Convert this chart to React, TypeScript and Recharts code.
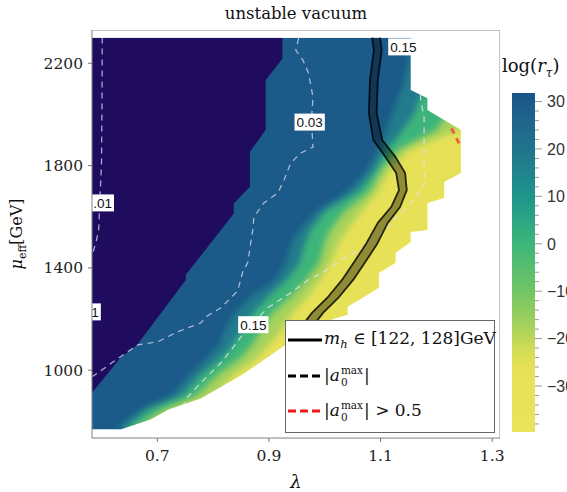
import React from 'react'
import { ComposedChart, Scatter, XAxis, YAxis, BarChart, Bar } from 'recharts'

const SERIF = '"DejaVu Serif", serif'
const SANS = '"Liberation Sans", Arial, sans-serif'

// axes
const LAM_MIN = 0.583
const LAM_MAX = 1.314
const MU_MIN = 735
const MU_MAX = 2330
const MU_TOP = 2300
const LAYER_RIGHT = 1.29
const X_TICKS = [0.7, 0.9, 1.1, 1.3]
const Y_TICKS = [1000, 1400, 1800, 2200]

// outer edge of the scanned region, bottom -> top
const EDGE_LAM = [0.583, 0.634, 0.688, 0.72, 0.778, 0.855, 0.93, 1.015, 1.041, 1.041, 1.068, 1.097, 1.097, 1.127, 1.127, 1.154, 1.154, 1.184, 1.184, 1.214, 1.214, 1.244, 1.244, 1.184, 1.184, 1.154, 1.154]
const EDGE_MU = [768, 768, 807, 846, 889, 986, 1100, 1200, 1217, 1248, 1283, 1322, 1380, 1420, 1459, 1501, 1540, 1548, 1654, 1673, 1736, 1771, 1939, 2017, 2063, 2095, 2300]

// edge of the purple (very large r) region
const PURPLE_LAM = [0.583, 0.634, 0.664, 0.751, 0.751, 0.814, 0.837, 0.837, 0.866, 0.866, 0.894, 0.894, 0.924, 0.924]
const PURPLE_MU = [912, 1049, 1100, 1353, 1373, 1548, 1613, 1652, 1717, 1854, 1939, 2134, 2218, 2300]

// colour transition blue -> yellow, left edge of each band per row
const BAND_MU = [768, 846, 900, 986, 1050, 1100, 1150, 1220, 1290, 1350, 1420, 1500, 1550, 1620, 1700, 1780, 1860, 1940, 2000, 2060, 2110, 2300]
const TEAL_LAM = [0.625, 0.67, 0.725, 0.76, 0.79, 0.81, 0.82, 0.838, 0.868, 0.91, 0.93, 0.94, 0.955, 0.985, 1.04, 1.075, 1.095, 1.11, 1.12, 1.13, 1.14, 1.16]
const GREEN_LAM = [0.64, 0.685, 0.745, 0.78, 0.815, 0.835, 0.85, 0.87, 0.9, 0.93, 0.955, 0.965, 0.975, 1.0, 1.06, 1.09, 1.11, 1.14, 1.16, 1.17, 1.19, 1.2]
const LIME_LAM = [0.66, 0.71, 0.77, 0.81, 0.85, 0.87, 0.885, 0.905, 0.94, 0.965, 0.99, 1.0, 1.01, 1.035, 1.08, 1.1, 1.13, 1.2, 1.22, 1.25, 1.26, 1.26]
const YELLOW_LAM = [0.7, 0.74, 0.8, 0.84, 0.88, 0.9, 0.92, 0.94, 0.97, 0.99, 1.01, 1.025, 1.04, 1.065, 1.095, 1.115, 1.15, 1.24, 1.27, 1.27, 1.27, 1.27]

// dashed contours
const C01_LAM = [0.6013, 0.601, 0.6, 0.597, 0.595, 0.591, 0.586, 0.583]
const C01_MU = [2301, 2056, 1802, 1665, 1548, 1509, 1470, 1447]
const C03_LAM = [0.9533, 0.948, 0.961, 0.971, 0.979, 0.977, 0.977, 0.979, 0.957, 0.939, 0.927, 0.916, 0.891, 0.873, 0.871, 0.862, 0.853, 0.844, 0.814, 0.787, 0.778, 0.736, 0.701, 0.665, 0.634, 0.584]
const C03_MU = [2298, 2251, 2212, 2161, 2067, 2005, 1939, 1872, 1849, 1810, 1743, 1693, 1654, 1599, 1548, 1420, 1384, 1310, 1244, 1209, 1185, 1150, 1111, 1099, 1053, 975]
const C15_LAM = [1.14, 1.169, 1.172, 1.178, 1.178, 1.181, 1.172, 1.154, 1.142, 1.118, 1.092, 1.068, 1.029, 0.998, 0.97, 0.939, 0.898, 0.855, 0.837, 0.814, 0.778, 0.755, 0.747]
const C15_MU = [2262, 2212, 2056, 1989, 1771, 1743, 1704, 1654, 1626, 1576, 1517, 1478, 1431, 1384, 1353, 1302, 1244, 1146, 1092, 1029, 951, 897, 865]

const LABEL_TEXT = ['0.15', '0.03', '0.15', '.01', '1']
const LABEL_LAM = [1.1408, 0.973, 0.872, 0.602, 0.5885]
const LABEL_MU = [2264, 1970, 1178, 1654, 1228]

// m_h in [122,128] GeV band
const MH_MU = [2300, 2251, 2134, 2005, 1900, 1833, 1771, 1704, 1638, 1576, 1490, 1431, 1353, 1287, 1224, 1139, 1100]
const MH_LO = [1.085, 1.088, 1.081, 1.079, 1.087, 1.109, 1.128, 1.133, 1.119, 1.095, 1.073, 1.055, 1.031, 1.006, 0.977, 0.947, 0.935]
const MH_HI = [1.099, 1.102, 1.095, 1.093, 1.103, 1.127, 1.144, 1.147, 1.135, 1.113, 1.093, 1.075, 1.051, 1.026, 0.997, 0.967, 0.955]

// |a0max| > 0.5
const A0_LAM = [1.227, 1.244]
const A0_MU = [1946, 1872]

// colour bar
const CB_MIN = -39.7
const CB_MAX = 31.8
const CB_TICKS = [-38, -36, -34, -32, -30, -28, -26, -24, -22, -20, -18, -16, -14, -12, -10, -8, -6, -4, -2, 0, 2, 4, 6, 8, 10, 12, 14, 16, 18, 20, 22, 24, 26, 28, 30]
const CB_STOPS: [number, string][] = [
  [31.8, '#1b5588'], [25, '#1f678c'], [20, '#20748d'], [10, '#1f958b'], [0, '#3cb67b'],
  [-10, '#72c564'], [-18, '#a9d35a'], [-22, '#cfdc55'], [-26, '#e6e157'], [-39.7, '#ebe45b'],
]

const PURPLE = '#1f0c5e'
const BLUE = '#1b5a89'

const pts = (lam: number[], mu: number[]) => lam.map((x, i) => ({ x, y: mu[i] }))

const toD = (p: any[], close: boolean) =>
  (p || []).map((q, i) => (i ? 'L' : 'M') + q.x.toFixed(2) + ',' + q.y.toFixed(2)).join(' ') + (close ? ' Z' : '')

const fillShape = (fill: string, extra: any = {}) => (props: any) =>
  <path d={toD(props.points, true)} fill={fill} stroke="none" {...extra} />

const strokeShape = (stroke: string, width: number, dash?: string, opacity = 1) => (props: any) =>
  <path d={toD(props.points, false)} fill="none" stroke={stroke} strokeWidth={width}
    strokeDasharray={dash} strokeOpacity={opacity} strokeLinejoin="round" />

const noDot = () => <g />

const ContourLabel = (p: any) => {
  const t: string = p.payload.t
  const fs = 13.5
  const w = t.split('').reduce((s, c) => s + (c === '.' ? 0.278 : 0.556) * fs, 0) + 4
  return (
    <g>
      <rect x={p.cx - w / 2} y={p.cy - 8.5} width={w} height={17} fill="#fff" />
      <text x={p.cx} y={p.cy} dy="0.36em" textAnchor="middle" fontFamily={SANS} fontSize={fs} fill="#111">{t}</text>
    </g>
  )
}

const CbTick = (p: any) => {
  const v = p.payload.value
  const major = v % 10 === 0
  return (
    <g>
      <line x1={p.x} x2={p.x + (major ? 7 : 4)} y1={p.y} y2={p.y} stroke="#999" strokeWidth={1} />
      {major && (
        <text x={p.x + 12} y={p.y} dy="0.36em" fontFamily={SANS} fontSize={16} fill="#333">
          {v < 0 ? '\u2212' + Math.abs(v) : String(v)}
        </text>
      )}
    </g>
  )
}

const SupSub = ({ sup, sub }: { sup: string; sub: string }) => (
  <span style={{ display: 'inline-flex', flexDirection: 'column', fontSize: 10.5, lineHeight: '12px', verticalAlign: 'middle', margin: '0 1px' }}>
    <span>{sup}</span><span>{sub}</span>
  </span>
)

const LEGEND = [
  { color: '#000', dash: undefined, text: <><i>m</i><sub style={{ fontSize: 11.5 }}><i>h</i></sub> ∈ [122, 128]GeV</> },
  { color: '#000', dash: '8 4', text: <>|<i>a</i><SupSub sup="max" sub="0" />|</> },
  { color: '#f01818', dash: '8 4', text: <>|<i>a</i><SupSub sup="max" sub="0" />| &gt; 0.5</> },
]

export default function App() {
  const base = [{ x: LAM_MIN, y: EDGE_MU[0] }, { x: LAM_MIN, y: MU_TOP }, { x: LAYER_RIGHT, y: MU_TOP }, { x: LAYER_RIGHT, y: EDGE_MU[0] }]
  const layer = (lam: number[]) => [...pts(lam, BAND_MU), { x: LAYER_RIGHT, y: MU_TOP }, { x: LAYER_RIGHT, y: BAND_MU[0] }]
  const purple = [...pts(PURPLE_LAM, PURPLE_MU), { x: LAM_MIN, y: MU_TOP }]
  const mask = [
    { x: LAM_MIN, y: MU_MAX }, { x: LAM_MAX, y: MU_MAX }, { x: LAM_MAX, y: MU_MIN }, { x: LAM_MIN, y: MU_MIN },
    ...pts(EDGE_LAM, EDGE_MU), { x: LAM_MIN, y: MU_TOP },
  ]
  const band = [...pts(MH_LO, MH_MU), ...pts(MH_HI, MH_MU).reverse()]
  const frame = [{ x: LAM_MIN, y: MU_MIN }, { x: LAM_MIN, y: MU_MAX }, { x: LAM_MAX, y: MU_MAX }, { x: LAM_MAX, y: MU_MIN }]
  const labels = LABEL_TEXT.map((t, i) => ({ x: LABEL_LAM[i], y: LABEL_MU[i], t }))

  return (
    <div style={{ position: 'absolute', left: 0, top: 0, width: 567, height: 492, background: '#fff', overflow: 'hidden' }}>
      <ComposedChart width={567} height={492} margin={{ top: 30, right: 67, bottom: 0, left: 0 }}>
        <defs>
          <filter id="soft" x="-20%" y="-20%" width="140%" height="140%">
            <feGaussianBlur stdDeviation="3" />
          </filter>
        </defs>
        <XAxis type="number" dataKey="x" domain={[LAM_MIN, LAM_MAX]} allowDataOverflow ticks={X_TICKS}
          tickFormatter={(v: number) => v.toFixed(1)} height={54} tickSize={4} tickMargin={8} stroke="#777"
          tick={{ fill: '#222', fontFamily: SERIF, fontSize: 15.5 }} />
        <YAxis type="number" dataKey="y" domain={[MU_MIN, MU_MAX]} allowDataOverflow ticks={Y_TICKS}
          width={92} tickSize={4} tickMargin={5} stroke="#777"
          tick={{ fill: '#222', fontFamily: SERIF, fontSize: 15.5 }} />

        <Scatter data={base} shape={noDot} line={fillShape(BLUE)} isAnimationActive={false} />
        <Scatter data={layer(TEAL_LAM)} shape={noDot} line={fillShape('#207a8d', { filter: 'url(#soft)' })} isAnimationActive={false} />
        <Scatter data={layer(GREEN_LAM)} shape={noDot} line={fillShape('#3db57a', { filter: 'url(#soft)' })} isAnimationActive={false} />
        <Scatter data={layer(LIME_LAM)} shape={noDot} line={fillShape('#a6d25b', { filter: 'url(#soft)' })} isAnimationActive={false} />
        <Scatter data={layer(YELLOW_LAM)} shape={noDot} line={fillShape('#e6e157', { filter: 'url(#soft)' })} isAnimationActive={false} />
        <Scatter data={purple} shape={noDot} line={fillShape(PURPLE)} isAnimationActive={false} />

        <Scatter data={pts(C01_LAM, C01_MU)} shape={noDot} line={strokeShape('#d0d0e6', 1.2, '6 5', 0.85)} isAnimationActive={false} />
        <Scatter data={pts(C03_LAM, C03_MU)} shape={noDot} line={strokeShape('#d0d0e6', 1.2, '6 5', 0.85)} isAnimationActive={false} />
        <Scatter data={pts(C15_LAM, C15_MU)} shape={noDot} line={strokeShape('#e0e0ee', 1.2, '6 5', 0.85)} isAnimationActive={false} />

        <Scatter data={mask} shape={noDot} line={fillShape('#fff')} isAnimationActive={false} />

        <Scatter data={band} shape={noDot} line={fillShape('#000', { fillOpacity: 0.38 })} isAnimationActive={false} />
        <Scatter data={pts(MH_LO, MH_MU)} shape={noDot} line={strokeShape('#000', 1.8, undefined, 0.8)} isAnimationActive={false} />
        <Scatter data={pts(MH_HI, MH_MU)} shape={noDot} line={strokeShape('#000', 1.8, undefined, 0.8)} isAnimationActive={false} />

        <Scatter data={pts(A0_LAM, A0_MU)} shape={noDot} line={strokeShape('#f0603c', 3, '6 5')} isAnimationActive={false} />

        <Scatter data={labels} shape={ContourLabel} isAnimationActive={false} />
        <Scatter data={frame} shape={noDot} line={(p: any) => <path d={toD(p.points, true)} fill="none" stroke="#8a8a8a" strokeWidth={1} />} isAnimationActive={false} />
      </ComposedChart>

      <div style={{ position: 'absolute', left: 500, top: 0 }}>
        <BarChart width={67} height={492} data={[{ k: 'c', v: [CB_MIN, CB_MAX] }]} margin={{ top: 93, right: 0, bottom: 60, left: 12 }} barCategoryGap={0}>
          <defs>
            <linearGradient id="cbgrad" x1="0" y1="0" x2="0" y2="1">
              {CB_STOPS.map(([v, c]) => (
                <stop key={v} offset={(CB_MAX - v) / (CB_MAX - CB_MIN)} stopColor={c} />
              ))}
            </linearGradient>
          </defs>
          <XAxis dataKey="k" hide />
          <YAxis orientation="right" type="number" domain={[CB_MIN, CB_MAX]} allowDataOverflow ticks={CB_TICKS}
            interval={0} width={32} tickSize={0} tickMargin={0} axisLine={false} tickLine={false} tick={<CbTick />} />
          <Bar dataKey="v" fill="url(#cbgrad)" isAnimationActive={false} />
        </BarChart>
      </div>

      <div style={{ position: 'absolute', left: 296, top: 4, transform: 'translateX(-50%)', fontFamily: SERIF, fontSize: 16.5, whiteSpace: 'nowrap', color: '#111' }}>
        unstable vacuum
      </div>
      <div style={{ position: 'absolute', left: 502, top: 55, fontFamily: SERIF, fontSize: 18, whiteSpace: 'nowrap', color: '#111' }}>
        log(<i>r</i><sub style={{ fontSize: 12 }}><i>τ</i></sub>)
      </div>
      <div style={{ position: 'absolute', left: 18, top: 234, transform: 'translate(-50%, -50%) rotate(-90deg)', fontFamily: SERIF, fontSize: 16, whiteSpace: 'nowrap', color: '#111' }}>
        <i>μ</i><sub style={{ fontSize: 11 }}>eff</sub>[GeV]
      </div>
      <div style={{ position: 'absolute', left: 296, top: 481, transform: 'translate(-50%, -50%)', fontFamily: SERIF, fontSize: 18, fontStyle: 'italic', color: '#111' }}>
        λ
      </div>

      <div style={{ position: 'absolute', left: 285, top: 320, width: 210, height: 113, boxSizing: 'border-box', border: '1px solid #666', background: '#fff' }}>
        {LEGEND.map((e, i) => (
          <div key={i} style={{ position: 'absolute', left: 0, top: 6 + i * 35.5, height: 26, display: 'flex', alignItems: 'center', fontFamily: SERIF, fontSize: 17, whiteSpace: 'nowrap', color: '#111' }}>
            <svg width={38} height={6} style={{ flex: 'none' }}>
              <line x1={2} x2={36} y1={3} y2={3} stroke={e.color} strokeWidth={3} strokeDasharray={e.dash} />
            </svg>
            <span>{e.text}</span>
          </div>
        ))}
      </div>
    </div>
  )
}
